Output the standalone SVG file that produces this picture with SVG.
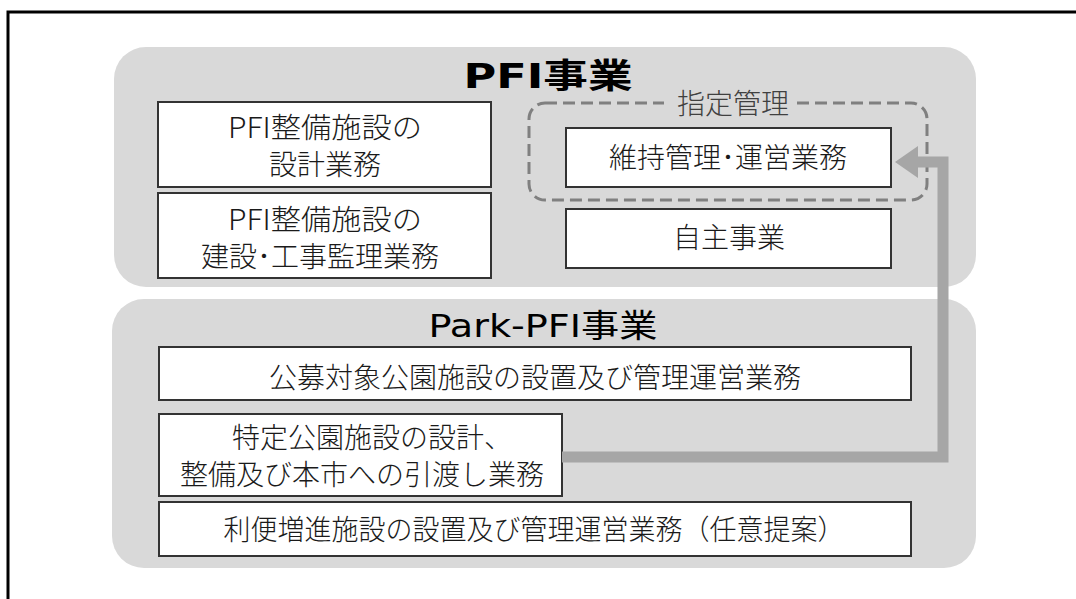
<svg xmlns="http://www.w3.org/2000/svg" width="1076" height="599" viewBox="0 0 1076 599">
<style>
.panel{fill:#d9d9d9;stroke:none}
.box{fill:#ffffff;stroke:#333333;stroke-width:2}
.t{font-family:"Noto Sans CJK JP","Noto Sans",sans-serif;font-size:28px;font-weight:300;fill:#1a1a1a;text-anchor:middle}
.title{font-family:"DejaVu Sans","Noto Sans CJK JP",sans-serif;fill:#000;text-anchor:middle}
.conn{fill:none;stroke:#a6a6a6;stroke-width:11;stroke-linejoin:miter}
</style>
<rect x="0" y="0" width="1076" height="599" fill="#ffffff"/>
<path d="M8,599 V12 H1076" fill="none" stroke="#000" stroke-width="3"/>
<g id="pfi-panel">
<rect class="panel" x="114" y="47" width="862" height="240" rx="32"/>
<text class="title" x="548" y="88" font-size="34" font-weight="bold" textLength="169" lengthAdjust="spacingAndGlyphs">PFI事業</text>
</g>
<g id="park-panel">
<rect class="panel" x="112" y="299" width="864" height="269" rx="32"/>
<text class="title" x="543" y="337" font-size="32" textLength="229" lengthAdjust="spacingAndGlyphs">Park-PFI事業</text>
</g>
<g id="shitei-kanri">
<rect x="529" y="103" width="398" height="97" rx="16" fill="none" stroke="#808080" stroke-width="3" stroke-dasharray="12,6"/>
<rect x="664" y="92" width="128" height="24" fill="#d9d9d9"/>
<text class="t" x="733" y="114" font-size="25" style="fill:#404040">指定管理</text>
</g>
<g id="n-design">
<rect class="box" x="158" y="102" width="333" height="85"/>
<text class="t" x="325" y="138" textLength="194" lengthAdjust="spacingAndGlyphs">PFI整備施設の</text>
<text class="t" x="325" y="175">設計業務</text>
</g>
<g id="n-construct">
<rect class="box" x="158" y="193" width="333" height="85"/>
<text class="t" x="325" y="230" textLength="194" lengthAdjust="spacingAndGlyphs">PFI整備施設の</text>
<text class="t" x="320" y="267">建設･工事監理業務</text>
</g>
<g id="n-maintain">
<rect class="box" x="566" y="128" width="325" height="59"/>
<text class="t" x="728" y="168">維持管理･運営業務</text>
</g>
<g id="n-own">
<rect class="box" x="566" y="209" width="325" height="59"/>
<text class="t" x="729" y="248">自主事業</text>
</g>
<g id="n-koubo">
<rect class="box" x="159" y="347" width="752" height="53"/>
<text class="t" x="535" y="388">公募対象公園施設の設置及び管理運営業務</text>
</g>
<g id="n-tokutei">
<rect class="box" x="159" y="414" width="403" height="82"/>
<text class="t" x="372" y="448">特定公園施設の設計、</text>
<text class="t" x="362" y="485">整備及び本市への引渡し業務</text>
</g>
<g id="n-ribin">
<rect class="box" x="159" y="502" width="752" height="54"/>
<text class="t" x="534" y="540" textLength="621" lengthAdjust="spacingAndGlyphs">利便増進施設の設置及び管理運営業務（任意提案）</text>
</g>
<g id="connectors">
<path class="conn" d="M562,457 H943 V162 H912"/>
<polygon points="895,162 918,146 918,178" fill="#a6a6a6"/>
</g>
</svg>
